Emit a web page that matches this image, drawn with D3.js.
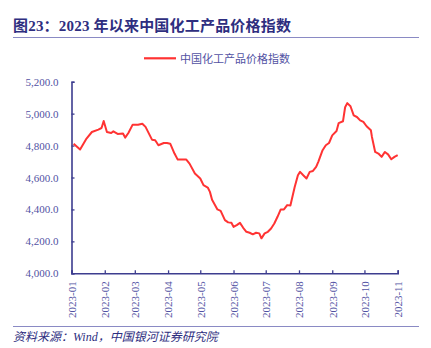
<!DOCTYPE html>
<html><head><meta charset="utf-8">
<script src="https://cdn.jsdelivr.net/npm/d3@7"></script>
<style>body{margin:0;background:#fff}svg{display:block}</style>
</head><body><svg id="c" width="431" height="348"></svg>
<script>
const dates = ["2023-01-03","2023-01-09","2023-01-15","2023-01-20","2023-01-26","2023-01-29","2023-01-31","2023-02-03","2023-02-07","2023-02-09","2023-02-13","2023-02-18","2023-02-20","2023-02-23","2023-02-27","2023-03-04","2023-03-08","2023-03-11","2023-03-17","2023-03-20","2023-03-23","2023-03-28","2023-03-31","2023-04-03","2023-04-07","2023-04-10","2023-04-18","2023-04-21","2023-04-26","2023-05-01","2023-05-04","2023-05-08","2023-05-10","2023-05-12","2023-05-17","2023-05-20","2023-05-24","2023-05-27","2023-05-30","2023-06-01","2023-06-04","2023-06-07","2023-06-10","2023-06-13","2023-06-16","2023-06-19","2023-06-22","2023-06-25","2023-06-27","2023-06-30","2023-07-03","2023-07-06","2023-07-09","2023-07-12","2023-07-15","2023-07-18","2023-07-21","2023-07-24","2023-07-28","2023-07-31","2023-08-02","2023-08-05","2023-08-08","2023-08-11","2023-08-14","2023-08-17","2023-08-19","2023-08-23","2023-08-26","2023-08-29","2023-09-01","2023-09-05","2023-09-07","2023-09-11","2023-09-13","2023-09-15","2023-09-18","2023-09-21","2023-09-24","2023-09-27","2023-09-30","2023-10-03","2023-10-07","2023-10-08","2023-10-11","2023-10-14","2023-10-17","2023-10-20","2023-10-23","2023-10-26","2023-10-29","2023-11-01"];
const values = [4812,4775,4844,4885,4900,4910,4954,4885,4879,4889,4873,4875,4850,4879,4931,4931,4937,4917,4837,4833,4802,4816,4816,4812,4750,4712,4712,4687,4625,4594,4552,4537,4510,4460,4400,4391,4333,4319,4316,4291,4302,4316,4285,4260,4254,4244,4254,4250,4219,4250,4260,4281,4312,4354,4400,4400,4427,4425,4541,4614,4635,4614,4594,4635,4641,4666,4698,4771,4802,4816,4864,4891,4941,4952,5040,5066,5046,4989,4979,4958,4948,4921,4896,4854,4760,4750,4729,4760,4745,4714,4729,4740];
const tickMonths = ["2023-01","2023-02","2023-03","2023-04","2023-05","2023-06","2023-07","2023-08","2023-09","2023-10","2023-11"];
const yTicks = [4000,4200,4400,4600,4800,5000,5200];
const seriesName = "中国化工产品价格指数";
const title = "图23：2023 年以来中国化工产品价格指数";
const source = "资料来源：Wind，中国银河证券研究院";

const parse = d3.timeParse("%Y-%m-%d");
const data = dates.map((d,i)=>({date:parse(d), v:values[i]}));
const svg = d3.select("#c");
const navy = "#2e2e80", axisC = "#3d3d8f", labelC = "#5252a3";
const serif = "'Liberation Serif','Times New Roman',serif";
const cjk = "'Liberation Serif','Noto Sans CJK SC',serif";

const x = d3.scaleTime().domain([parse("2023-01-01"), parse("2023-11-01")]).range([71.5, 397.7]);
const y = d3.scaleLinear().domain([4000,5200]).range([273.3, 81.7]);

// title
svg.append("text").attr("x",13).attr("y",31).attr("fill",navy)
  .style("font-family",cjk).style("font-weight","bold").style("font-size","15px")
  .style("letter-spacing","0.2px").text(title);
svg.append("line").attr("x1",13).attr("x2",419).attr("y1",37.5).attr("y2",37.5)
  .attr("stroke","#8a8ac4").attr("stroke-width",1);

// legend
svg.append("line").attr("x1",144).attr("x2",176).attr("y1",58.3).attr("y2",58.3)
  .attr("stroke","#ff3333").attr("stroke-width",2.2);
svg.append("text").attr("x",180).attr("y",62.5).attr("fill",labelC)
  .style("font-family",cjk).style("font-size","11px").text(seriesName);

// y axis
const ya = svg.append("g").attr("transform","translate(71.5,0)")
  .call(d3.axisLeft(y).tickValues(yTicks).tickSize(-3).tickPadding(13).tickFormat(d3.format(",.1f")));
ya.select(".domain").attr("stroke",axisC).attr("stroke-width",1.6);
ya.selectAll(".tick line").attr("stroke",axisC).attr("stroke-width",1.3);
ya.selectAll("text").attr("fill",labelC).style("font-family",serif).style("font-size","11px");

// x axis
const xa = svg.append("g").attr("transform","translate(0,273.3)")
  .call(d3.axisBottom(x).tickValues(tickMonths.map(m=>parse(m+"-01"))).tickSize(-3).tickFormat(d3.timeFormat("%Y-%m")));
xa.select(".domain").attr("stroke",axisC).attr("stroke-width",1.6);
xa.selectAll(".tick line").attr("stroke",axisC).attr("stroke-width",1.3);
xa.selectAll("text").attr("fill",labelC).style("font-family",serif).style("font-size","11px")
  .attr("transform","rotate(-90)").attr("text-anchor","end").attr("x",-8).attr("y",0).attr("dy","0.35em");

// line
svg.append("path").datum(data).attr("fill","none").attr("stroke","#ff3333").attr("stroke-width",2)
  .attr("stroke-linejoin","round")
  .attr("d", d3.line().x(d=>x(d.date)).y(d=>y(d.v)));

// source
svg.append("line").attr("x1",13).attr("x2",419).attr("y1",326.5).attr("y2",326.5)
  .attr("stroke","#8a8ac4").attr("stroke-width",1);
svg.append("text").attr("x",13).attr("y",341).attr("fill",navy)
  .style("font-family",cjk).style("font-style","italic").style("font-size","12px").text(source);
</script></body></html>
